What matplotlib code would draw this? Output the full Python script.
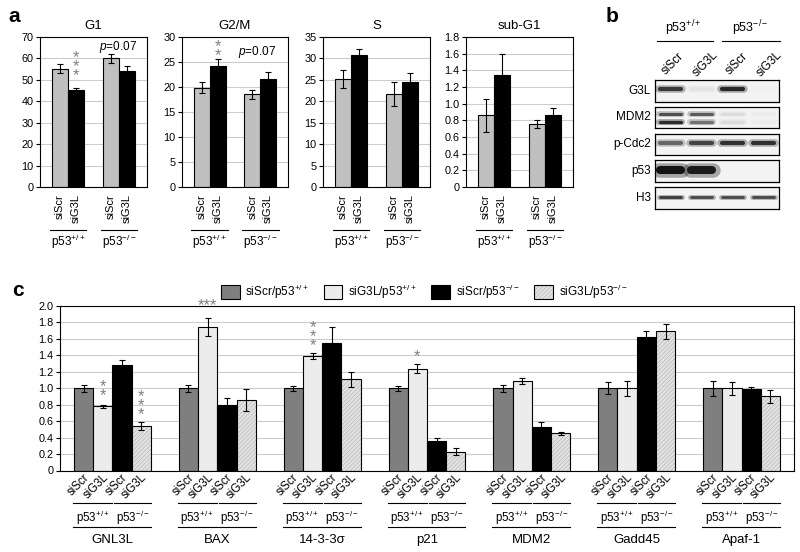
import numpy as np
import matplotlib
matplotlib.use('Agg')
import matplotlib.pyplot as plt
from matplotlib.patches import Patch
from matplotlib.legend_handler import HandlerTuple
from matplotlib.transforms import blended_transform_factory

plt.rcParams['font.family'] = ['Liberation Sans', 'DejaVu Sans']
plt.rcParams['mathtext.fontset'] = 'custom'
plt.rcParams['mathtext.rm'] = 'Liberation Sans'
plt.rcParams['mathtext.it'] = 'Liberation Sans:italic'
plt.rcParams['hatch.linewidth'] = 0.45

# Панель a: фазы клеточного цикла
# порядок столбцов: siScr p53+/+, siG3L p53+/+, siScr p53-/-, siG3L p53-/-
phases = ['G1', 'G2/M', 'S', 'sub-G1']
ymax_a = [70, 30, 35, 1.8]
ystep_a = [10, 5, 5, 0.2]
g1_mean = [55.3, 45.2, 60.0, 54.2]
g1_err = [1.9, 1.2, 1.9, 2.4]
g2m_mean = [19.9, 24.3, 18.6, 21.6]
g2m_err = [1.1, 1.3, 0.9, 1.5]
s_mean = [25.2, 30.8, 21.7, 24.4]
s_err = [2.1, 1.5, 2.7, 2.3]
subg1_mean = [0.86, 1.34, 0.76, 0.87]
subg1_err = [0.20, 0.26, 0.05, 0.08]
bar_labels_a = ['siScr', 'siG3L', 'siScr', 'siG3L']
p53_labels = ['p53$^{+/+}$', 'p53$^{-/-}$']

# Панель b: вестерн-блот (интенсивность полос по дорожкам)
blot_rows = ['G3L', 'MDM2', 'p-Cdc2', 'p53', 'H3']
lane_labels = ['siScr', 'siG3L', 'siScr', 'siG3L']
g3l_band = [0.85, 0.12, 0.92, 0.06]
mdm2_upper = [0.75, 0.70, 0.15, 0.08]
mdm2_lower = [0.90, 0.60, 0.15, 0.08]
cdc2_band = [0.65, 0.80, 0.88, 0.88]
p53_band = [1.0, 0.97, 0.0, 0.0]
h3_band = [0.85, 0.78, 0.78, 0.78]

# Панель c: экспрессия генов
genes = ['GNL3L', 'BAX', '14-3-3σ', 'p21', 'MDM2', 'Gadd45', 'Apaf-1']
series_names = ['siScr/p53$^{+/+}$', 'siG3L/p53$^{+/+}$', 'siScr/p53$^{-/-}$', 'siG3L/p53$^{-/-}$']
siscr_wt = [1.00, 1.00, 1.00, 1.00, 1.00, 1.00, 1.00]
siscr_wt_err = [0.04, 0.04, 0.03, 0.03, 0.04, 0.07, 0.09]
sig3l_wt = [0.78, 1.74, 1.39, 1.24, 1.09, 1.00, 1.00]
sig3l_wt_err = [0.02, 0.11, 0.04, 0.05, 0.04, 0.09, 0.08]
siscr_ko = [1.28, 0.80, 1.55, 0.36, 0.53, 1.62, 0.99]
siscr_ko_err = [0.06, 0.08, 0.20, 0.04, 0.06, 0.08, 0.02]
sig3l_ko = [0.54, 0.855, 1.11, 0.23, 0.45, 1.69, 0.90]
sig3l_ko_err = [0.05, 0.13, 0.09, 0.04, 0.02, 0.09, 0.08]

fig = plt.figure(figsize=(8, 5.52), dpi=100)


def px_box(x0, y0, x1, y1):
    return [x0 / 800, 1 - y1 / 552, (x1 - x0) / 800, (y1 - y0) / 552]


def fy(py):
    return 1 - py / 552


def tick_text(v, step):
    if v == 0:
        return '0'
    return f'{v:.1f}' if step < 1 else f'{v:.0f}'


def stars(ax, x, y, n, size=12):
    # звёздочки значимости столбиком
    ax.text(x, y, '\n'.join(['*'] * n), ha='center', va='center', fontsize=size,
            linespacing=0.5, color='#808080', clip_on=False)


# ---------- панель a ----------
a_means = [g1_mean, g2m_mean, s_mean, subg1_mean]
a_errs = [g1_err, g2m_err, s_err, subg1_err]
a_px = [(40, 147), (182, 288), (323, 430), (466, 573)]
xa = np.array([0, 1, 3.2, 4.2])
a_colors = ['#c0c0c0', 'black', '#c0c0c0', 'black']
axes_a = []
for i, phase in enumerate(phases):
    x0, x1 = a_px[i]
    ax = fig.add_axes(px_box(x0, 37, x1, 187))
    ax.bar(xa, a_means[i], width=1, color=a_colors, edgecolor='black', linewidth=0.8, zorder=2)
    ax.errorbar(xa, a_means[i], yerr=a_errs[i], fmt='none', ecolor='black',
                elinewidth=0.8, capsize=2.2, capthick=0.8, zorder=3)
    ax.set_xlim(-1.25, 5.45)
    ax.set_ylim(0, ymax_a[i])
    ticks = np.arange(0, ymax_a[i] + ystep_a[i] / 2, ystep_a[i])
    ax.set_yticks(ticks)
    ax.set_yticklabels([tick_text(t, ystep_a[i]) for t in ticks])
    ax.yaxis.grid(True, color='#cccccc', lw=0.8)
    ax.set_axisbelow(True)
    ax.set_xticks([])
    ax.tick_params(axis='y', length=3, width=0.8, labelsize=7.8, pad=1.5)
    for s in ax.spines.values():
        s.set_linewidth(0.8)
    ax.set_title(phase, fontsize=9.5, pad=6)
    trans = blended_transform_factory(ax.transData, fig.transFigure)
    for x, lab in zip(xa, bar_labels_a):
        ax.text(x, fy(194), lab, rotation=90, ha='center', va='top', fontsize=8, transform=trans)
    for (a, b), lab in zip([(-0.65, 1.65), (2.55, 4.85)], p53_labels):
        ax.plot([a, b], [fy(230)] * 2, color='black', lw=0.8, transform=trans, clip_on=False)
        ax.text((a + b) / 2, fy(242), lab, ha='center', va='center', fontsize=8.5, transform=trans)
    axes_a.append(ax)

stars(axes_a[0], xa[1], 56.0, 3)
axes_a[0].text(3.65, 65.5, '$p$=0.07', ha='center', va='center', fontsize=8.5)
stars(axes_a[1], xa[1], 27.2, 2)
axes_a[1].text(3.5, 27, '$p$=0.07', ha='center', va='center', fontsize=8.5)

# ---------- панель b ----------
row_px = [(80, 102), (107, 128), (134, 155), (160, 182), (187, 209)]
row_bands = [[(g3l_band, 0.59, 3.0)],
             [(mdm2_upper, 0.68, 2.2), (mdm2_lower, 0.30, 2.4)],
             [(cdc2_band, 0.57, 3.0)],
             [(p53_band, 0.55, 5.8)],
             [(h3_band, 0.55, 2.0)]]
lanes = np.arange(4) + 0.5
for name, (y0, y1), bands in zip(blot_rows, row_px, row_bands):
    bx = fig.add_axes(px_box(655, y0, 779, y1))
    bx.set_facecolor('#f3f3f3')
    bx.set_xlim(0, 4)
    bx.set_ylim(0, 1)
    bx.set_xticks([])
    bx.set_yticks([])
    for s in bx.spines.values():
        s.set_linewidth(0.9)
    for vals, yb, lw in bands:
        for lx, v in zip(lanes, vals):
            if v <= 0:
                continue
            g = 1 - 0.92 * v
            bx.plot([lx - 0.36, lx + 0.36], [yb, yb], color=str(g), lw=lw * 1.8,
                    alpha=0.35, solid_capstyle='round')
            bx.plot([lx - 0.33, lx + 0.33], [yb, yb], color=str(g), lw=lw,
                    solid_capstyle='round')
    fig.text(651 / 800, fy((y0 + y1) / 2), name, ha='right', va='center', fontsize=8.5)

fig.text(683 / 800, fy(28), 'p53$^{+/+}$', ha='center', va='center', fontsize=9)
fig.text(750 / 800, fy(28), 'p53$^{-/-}$', ha='center', va='center', fontsize=9)
fig.add_artist(plt.Line2D([657 / 800, 713 / 800], [fy(41)] * 2, color='black', lw=0.8))
fig.add_artist(plt.Line2D([722 / 800, 780 / 800], [fy(41)] * 2, color='black', lw=0.8))
lane_px = [670, 702, 734, 766]
for lx, lab in zip(lane_px, lane_labels):
    fig.text((lx + 3) / 800, fy(64), lab, rotation=45, ha='center', va='center', fontsize=8.5)

# ---------- панель c ----------
axc = fig.add_axes(px_box(60, 306, 794, 470.5))
gx = np.arange(len(genes)) * 5.45
offs = [-1.5, -0.5, 0.5, 1.5]
c_means = [siscr_wt, sig3l_wt, siscr_ko, sig3l_ko]
c_errs = [siscr_wt_err, sig3l_wt_err, siscr_ko_err, sig3l_ko_err]
c_colors = ['#7f7f7f', '#ececec', 'black']
for k in range(4):
    x = gx + offs[k]
    if k < 3:
        axc.bar(x, c_means[k], width=1, color=c_colors[k], edgecolor='black', linewidth=0.8, zorder=2)
    else:
        axc.bar(x, c_means[k], width=1, color='#e2e2e2', edgecolor='#b5b5b5', hatch='////////',
                linewidth=0, zorder=2)
        axc.bar(x, c_means[k], width=1, fill=False, edgecolor='black', linewidth=0.8, zorder=2)
    axc.errorbar(x, c_means[k], yerr=c_errs[k], fmt='none', ecolor='black',
                 elinewidth=0.8, capsize=2.5, capthick=0.8, zorder=3)
axc.set_xlim(-2.725, len(genes) * 5.45 - 2.725)
axc.set_ylim(0, 2.0)
cticks = np.arange(0, 2.01, 0.2)
axc.set_yticks(cticks)
axc.set_yticklabels([tick_text(t, 0.2) for t in cticks])
axc.yaxis.grid(True, color='#cccccc', lw=0.8)
axc.set_axisbelow(True)
axc.set_xticks([])
axc.tick_params(axis='y', length=3, width=0.8, labelsize=7.8, pad=1.5)
for s in axc.spines.values():
    s.set_linewidth(0.8)

tc = blended_transform_factory(axc.transData, fig.transFigure)
for c, gene in zip(gx, genes):
    for o, lab in zip(offs, bar_labels_a):
        axc.text(c + o + 0.2, fy(476), lab, rotation=45, rotation_mode='anchor',
                 ha='right', va='center', fontsize=8.3, transform=tc)
    for (a, b), lab in zip([(c - 2.05, c - 0.02), (c + 0.08, c + 2.0)], p53_labels):
        axc.plot([a, b], [fy(503)] * 2, color='black', lw=0.8, transform=tc, clip_on=False)
        axc.text((a + b) / 2, fy(518), lab, ha='center', va='center', fontsize=8.3, transform=tc)
    axc.plot([c - 2.05, c + 2.0], [fy(527)] * 2, color='black', lw=0.8, transform=tc, clip_on=False)
    axc.text(c, fy(540), gene, ha='center', va='center', fontsize=9.5, transform=tc)

stars(axc, gx[0] - 0.5, 0.97, 2)
stars(axc, gx[0] + 1.5, 0.79, 3)
axc.text(gx[1] - 0.5, 2.0, '***', ha='center', va='center', fontsize=12, color='#808080', clip_on=False)
stars(axc, gx[2] - 0.5, 1.63, 3)
stars(axc, gx[3] - 0.5, 1.38, 1)

handles = [Patch(fc='#7f7f7f', ec='black', lw=0.8),
           Patch(fc='#ececec', ec='black', lw=0.8),
           Patch(fc='black', ec='black', lw=0.8),
           (Patch(fc='#e2e2e2', ec='#b5b5b5', hatch='////////', lw=0),
            Patch(fill=False, ec='black', lw=0.8))]
fig.legend(handles, series_names, ncol=4, loc='center', bbox_to_anchor=(424 / 800, fy(292)),
           frameon=False, fontsize=8.5, handlelength=1.6, handleheight=1.5,
           handletextpad=0.5, columnspacing=1.2, borderpad=0,
           handler_map={tuple: HandlerTuple(ndivide=1)})

# буквы панелей
fig.text(8 / 800, fy(16), 'a', fontsize=15, fontweight='bold', ha='left', va='center')
fig.text(606 / 800, fy(16), 'b', fontsize=15, fontweight='bold', ha='left', va='center')
fig.text(12 / 800, fy(290), 'c', fontsize=15, fontweight='bold', ha='left', va='center')

fig.savefig('out.png', dpi=100)
